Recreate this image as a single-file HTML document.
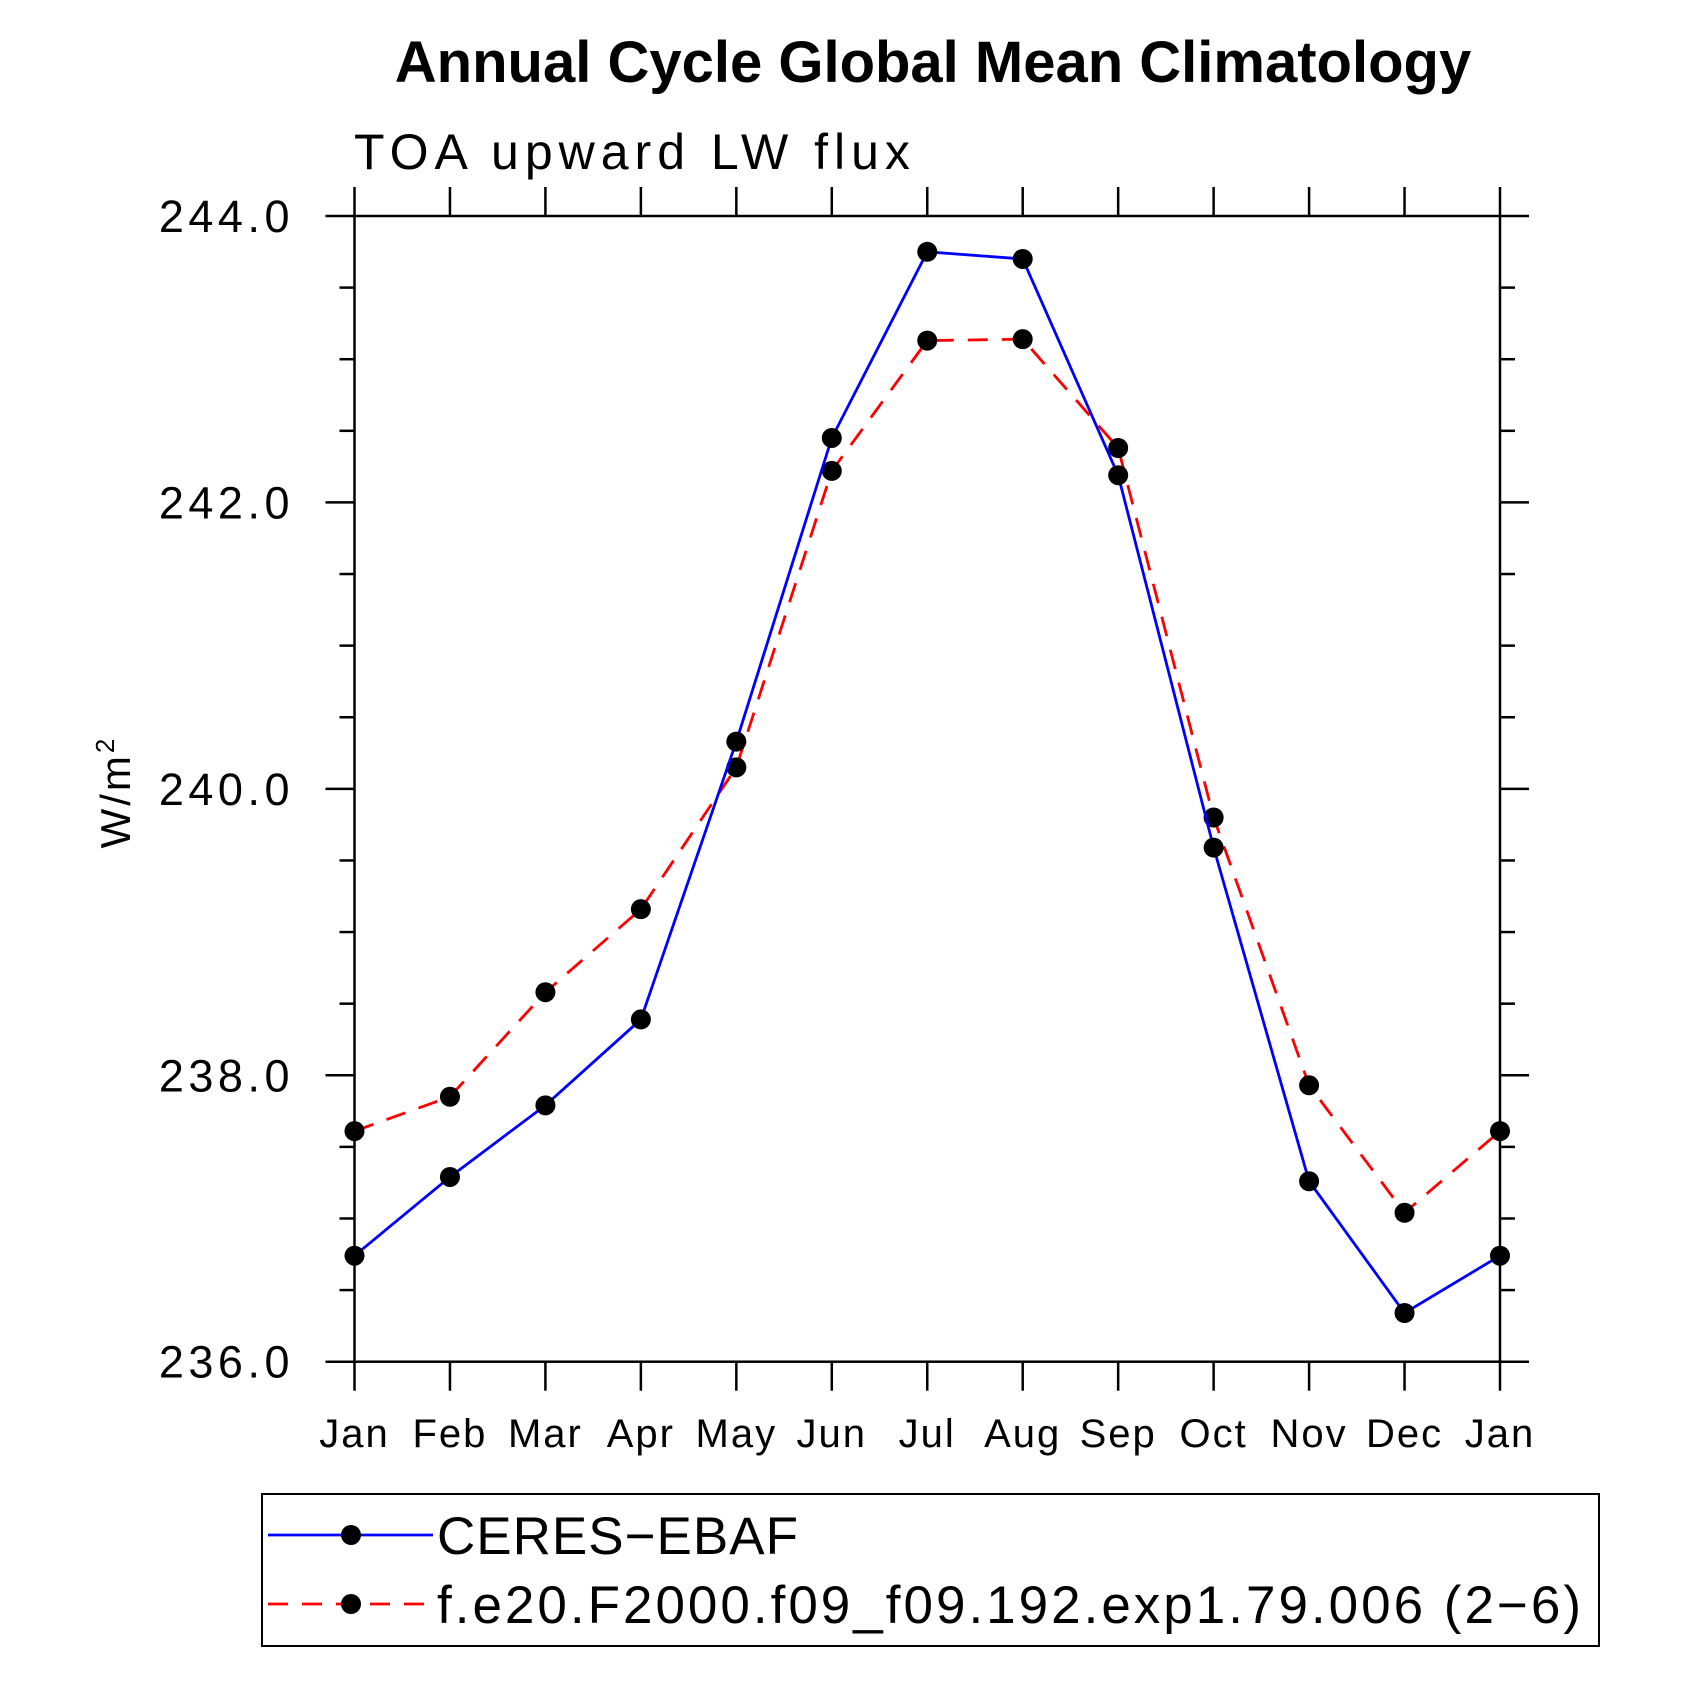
<!DOCTYPE html>
<html><head><meta charset="utf-8"><style>
html,body{margin:0;padding:0;background:#fff;}
svg{display:block;font-family:"Liberation Sans",sans-serif;}
</style></head><body>
<svg id="chart" width="1685" height="1685" viewBox="0 0 1685 1685">
<text x="933" y="82" font-size="58" font-weight="bold" text-anchor="middle">Annual Cycle Global Mean Climatology</text>
<text x="354" y="169" font-size="50" letter-spacing="6" fill="#000">TOA upward LW flux</text>
<text transform="translate(130,792) rotate(-90)" font-size="42" text-anchor="middle" letter-spacing="3">W/m<tspan dy="-16" font-size="26">2</tspan></text>
<g id="axes"></g>
<g id="series"></g>
<rect x="262" y="1494" width="1337" height="152" fill="none" stroke="#000" stroke-width="2"/>
<g id="legend"></g>
</svg>
<script>
const months = ["Jan","Feb","Mar","Apr","May","Jun","Jul","Aug","Sep","Oct","Nov","Dec","Jan"];
const ceres = [236.74,237.29,237.79,238.39,240.33,242.45,243.75,243.70,242.19,239.59,237.26,236.34,236.74];
const model = [237.61,237.85,238.58,239.16,240.15,242.22,243.13,243.14,242.38,239.80,237.93,237.04,237.61];
const yTicks = [236,238,240,242,244];
const yTickLabels = ["236.0","238.0","240.0","242.0","244.0"];
const seriesNames = ["CERES\u2212EBAF","f.e20.F2000.f09_f09.192.exp1.79.006 (2\u22126)"];

const NS="http://www.w3.org/2000/svg";
const L=354.5,R=1500,T=216,B=1361.7,yMin=236,yMax=244;
const X=i=>L+(R-L)*i/(months.length-1);
const Y=v=>B-(v-yMin)/(yMax-yMin)*(B-T);
function mk(tag,attrs,parent){const e=document.createElementNS(NS,tag);for(const k in attrs)e.setAttribute(k,attrs[k]);parent.appendChild(e);return e;}
const ax=document.getElementById('axes');
let e;
e=mk('rect',{x:L,y:T,width:R-L,height:B-T,fill:'none',stroke:'#000','stroke-width':2.5},ax);


months.forEach((m,i)=>{
  const x=X(i);
  e=mk('line',{x1:x,x2:x,y1:B,y2:B+29,stroke:'#000','stroke-width':2.5},ax);
  
  
  e=mk('line',{x1:x,x2:x,y1:T,y2:T-29,stroke:'#000','stroke-width':2.5},ax);
  
  
  e=mk('text',{x:x,y:1447,'font-size':40,'text-anchor':'middle','letter-spacing':2},ax);
  e.textContent=m;
  
  
});
for(let v=yMin;v<=yMax+1e-9;v+=0.5){
  const y=Y(v);const major=Math.abs(v-Math.round(v/2)*2)<1e-9;const len=major?29:15;
  e=mk('line',{x1:L-len,x2:L,y1:y,y2:y,stroke:'#000','stroke-width':2.5},ax);
  
  
  e=mk('line',{x1:R,x2:R+len,y1:y,y2:y,stroke:'#000','stroke-width':2.5},ax);
  
  
}
yTicks.forEach((v,i)=>{
  e=mk('text',{x:294,y:Y(v)+16,'font-size':45,'text-anchor':'end','letter-spacing':4.5},ax);
  e.textContent=yTickLabels[i];
  
  
});
const sg=document.getElementById('series');
function drawSeries(vals,color,dash,name){
  e=mk('polyline',{points:vals.map((v,i)=>X(i)+','+Y(v)).join(' '),fill:'none',stroke:color,'stroke-width':2.8,'stroke-dasharray':dash},sg);
  
  
  vals.forEach((v,i)=>{
    e=mk('circle',{cx:X(i),cy:Y(v),r:10,fill:'#000'},sg);
    
    
  });
}
drawSeries(model,'#f00','20 14','model');
drawSeries(ceres,'#00f','none','ceres');
const lg=document.getElementById('legend');
[[1535,'#00f','none','legend-entry-ceres',1],[1604,'#f00','20 14','legend-entry-model',3]].forEach((d,i)=>{
  const g=mk('g',{},lg);
  
  
  mk('line',{x1:268,x2:433,y1:d[0],y2:d[0],stroke:d[1],'stroke-width':2.8,'stroke-dasharray':d[2]},g);
  mk('circle',{cx:351,cy:d[0],r:10,fill:'#000'},g);
  const t=mk('text',{x:437,y:d[0]+19,'font-size':53,'letter-spacing':d[4]},g);
  t.textContent=seriesNames[i];
});
</script>
</body></html>
